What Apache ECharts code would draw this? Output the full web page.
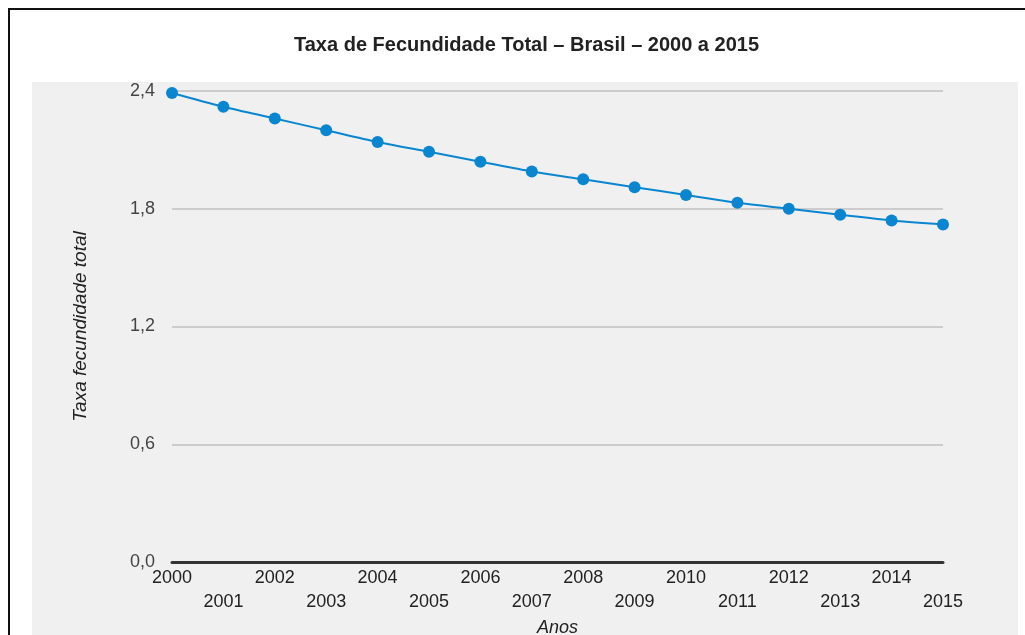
<!DOCTYPE html>
<html>
<head>
<meta charset="utf-8">
<script src="https://cdn.jsdelivr.net/npm/echarts@6/dist/echarts.min.js"></script>
<style>
  html, body {margin: 0; padding: 0; background: #fff; overflow: hidden;}
  #frame {position: absolute; left: 8px; top: 8px; width: 1100px; height: 700px; border: 2px solid #111;}
  #panel {position: absolute; left: 32px; top: 82px; width: 986px; height: 600px; background: #f0f0f0;}
  #chart {position: absolute; left: 0; top: 0; width: 1025px; height: 635px;}
</style>
</head>
<body>
<div id="frame"></div>
<div id="panel"></div>
<div id="chart"></div>
<script>
const titleText = 'Taxa de Fecundidade Total – Brasil – 2000 a 2015';
const years = ['2000', '2001', '2002', '2003', '2004', '2005', '2006', '2007',
  '2008', '2009', '2010', '2011', '2012', '2013', '2014', '2015'];
const fecundidade = [2.39, 2.32, 2.26, 2.20, 2.14, 2.09, 2.04, 1.99,
  1.95, 1.91, 1.87, 1.83, 1.80, 1.77, 1.74, 1.72];

const chart = echarts.init(document.getElementById('chart'), null, {renderer: 'canvas'});
const font = 'Liberation Sans, Arial, sans-serif';

chart.setOption({
  backgroundColor: 'transparent',
  animation: false,
  title: {
    text: titleText,
    left: 289,
    top: 30,
    textStyle: {fontFamily: font, fontSize: 20, fontWeight: 'bold', color: '#222'}
  },
  grid: {left: 172, right: 82, top: 91, bottom: 73, outerBoundsMode: 'none', containLabel: false},
  xAxis: {
    type: 'category',
    data: years,
    boundaryGap: false,
    name: 'Anos',
    nameLocation: 'middle',
    nameGap: 51,
    nameTextStyle: {fontFamily: font, fontSize: 18, fontStyle: 'italic', color: '#222'},
    axisLine: {lineStyle: {color: '#333', width: 3}},
    axisTick: {show: false},
    axisLabel: {
      interval: 0,
      margin: 4,
      fontFamily: font,
      fontSize: 18,
      color: '#222',
      lineHeight: 24,
      formatter: (v, i) => (i % 2 ? '\n' + v : v)
    },
    splitLine: {show: false}
  },
  yAxis: {
    type: 'value',
    min: 0,
    max: 2.4,
    interval: 0.6,
    name: 'Taxa fecundidade total',
    nameLocation: 'middle',
    nameGap: 82,
    nameTextStyle: {fontFamily: font, fontSize: 19, fontStyle: 'italic', color: '#222'},
    axisLine: {show: false},
    axisTick: {show: false},
    axisLabel: {
      margin: 17,
      fontFamily: font,
      fontSize: 18,
      color: '#444',
      formatter: v => v.toFixed(1).replace('.', ',')
    },
    splitLine: {lineStyle: {color: '#cccccc', width: 2}}
  },
  series: [{
    name: 'Taxa fecundidade total',
    type: 'line',
    data: fecundidade,
    smooth: 0.3,
    symbol: 'circle',
    symbolSize: 12,
    itemStyle: {color: '#0a86d0'},
    lineStyle: {color: '#0a86d0', width: 2}
  }]
});
</script>
</body>
</html>
